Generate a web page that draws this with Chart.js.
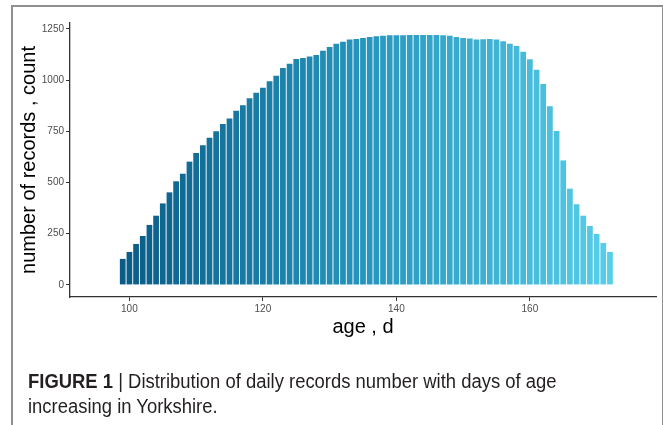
<!DOCTYPE html>
<html>
<head>
<meta charset="utf-8">
<script src="https://cdn.jsdelivr.net/npm/chart.js@4.4.0/dist/chart.umd.min.js"></script>
<style>
  html, body { margin: 0; padding: 0; background: #fff; }
  body { width: 663px; height: 425px; position: relative; overflow: hidden; font-family: Arial, 'Liberation Sans', sans-serif; }
  .frame { position: absolute; left: 11px; top: 5px; width: 649px; height: 440px; border: 2px solid #8f8f8f; border-bottom: none; }
  #wrap { position: absolute; left: 0; top: 0; width: 663px; height: 425px; }
  .caption { position: absolute; left: 28px; top: 369px; font-size: 20px; line-height: 25px; color: #231f20; white-space: nowrap; transform: scaleX(0.922); transform-origin: left top; }
  .caption b { font-weight: bold; }
</style>
</head>
<body>
<div class="frame"></div>
<div id="wrap"><canvas id="ageChart"></canvas></div>
<div class="caption"><b>FIGURE 1</b> | Distribution of daily records number with days of age<br>increasing in Yorkshire.</div>
<script>
// age in days, one bar per day
const ages = [
  99, 100, 101, 102, 103, 104, 105, 106, 107, 108, 109,
  110, 111, 112, 113, 114, 115, 116, 117, 118, 119,
  120, 121, 122, 123, 124, 125, 126, 127, 128, 129,
  130, 131, 132, 133, 134, 135, 136, 137, 138, 139,
  140, 141, 142, 143, 144, 145, 146, 147, 148, 149,
  150, 151, 152, 153, 154, 155, 156, 157, 158, 159,
  160, 161, 162, 163, 164, 165, 166, 167, 168, 169,
  170, 171, 172
];

// number of records for each age
const counts = [
  127, 161, 200, 239, 293, 338, 398, 452, 506, 543, 602,
  644, 682, 719, 750, 786, 813, 851, 877, 911, 939,
  963, 994, 1022, 1059, 1080, 1103, 1108, 1116, 1123, 1143,
  1162, 1178, 1188, 1198, 1201, 1206, 1211, 1214, 1217, 1219,
  1219, 1219, 1220, 1220, 1220, 1220, 1220, 1219, 1217, 1211,
  1206, 1203, 1199, 1200, 1201, 1198, 1190, 1178, 1167, 1138,
  1102, 1051, 981, 872, 752, 608, 470, 394, 338, 288,
  249, 205, 161
];

const xTicks = [100, 120, 140, 160];
const yTicks = [0, 250, 500, 750, 1000, 1250];

// fill goes from dark blue to light cyan with age
function barColour(i, n) {
  const stops = [[10, 92, 134], [38, 150, 190], [88, 206, 233]];
  const t = i / (n - 1) * (stops.length - 1);
  const k = Math.min(Math.floor(t), stops.length - 2);
  const f = t - k;
  const c = stops[k].map((v, j) => Math.round(v + (stops[k + 1][j] - v) * f));
  return `rgb(${c[0]},${c[1]},${c[2]})`;
}

Chart.defaults.font.family = "Arial, 'Liberation Sans', sans-serif";

const ctx = document.getElementById('ageChart').getContext('2d');
new Chart(ctx, {
  type: 'bar',
  data: {
    datasets: [{
      data: ages.map((a, i) => ({ x: a, y: counts[i] })),
      backgroundColor: ages.map((a, i) => barColour(i, ages.length)),
      borderWidth: 0,
      barPercentage: 0.86,
      categoryPercentage: 1
    }]
  },
  options: {
    responsive: true,
    maintainAspectRatio: false,
    animation: false,
    layout: { padding: { left: 0, right: 7, top: 23, bottom: 83 } },
    plugins: { legend: { display: false }, tooltip: { enabled: false } },
    scales: {
      x: {
        type: 'linear',
        offset: false,
        min: 91.1,
        max: 178.9,
        afterBuildTicks: scale => { scale.ticks = xTicks.map(v => ({ value: v })); },
        afterFit: scale => { scale.height = 45; },
        ticks: { color: '#4d4d4d', font: { size: 10 }, padding: 2, callback: v => String(v) },
        grid: { offset: false, drawOnChartArea: false, drawTicks: true, tickLength: 4, color: '#333' },
        border: { display: true, color: '#333', width: 1.3 },
        title: { display: true, text: 'age , d', color: '#000', font: { size: 20 }, padding: { top: 0, bottom: 3 } }
      },
      y: {
        min: -59,
        max: 1279,
        afterBuildTicks: scale => { scale.ticks = yTicks.map(v => ({ value: v })); },
        afterFit: scale => { scale.width = 70; },
        ticks: { color: '#4d4d4d', font: { size: 10 }, padding: 2, callback: v => String(v) },
        grid: { drawOnChartArea: false, drawTicks: true, tickLength: 4, color: '#333' },
        border: { display: true, color: '#333', width: 1.3 },
        title: { display: true, text: 'number of records , count', color: '#000', font: { size: 20 }, padding: { top: 17, bottom: 0 } }
      }
    }
  }
});
</script>
</body>
</html>
